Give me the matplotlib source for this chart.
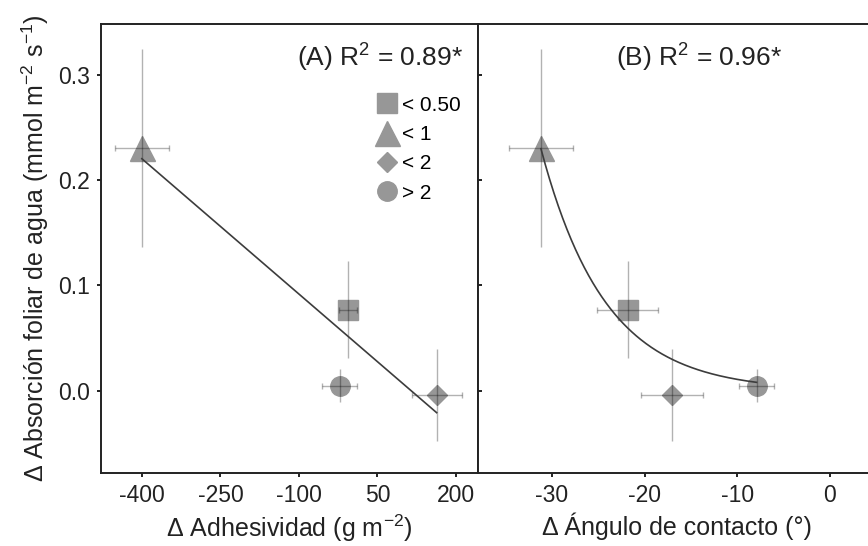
import numpy as np
import matplotlib
matplotlib.use("Agg")
import matplotlib.pyplot as plt
from matplotlib.lines import Line2D

plt.rcParams['font.family'] = ['Liberation Sans', 'DejaVu Sans']
plt.rcParams['mathtext.fontset'] = 'custom'
plt.rcParams['mathtext.rm'] = 'Liberation Sans'
plt.rcParams['mathtext.it'] = 'Liberation Sans'
plt.rcParams['axes.unicode_minus'] = False

# Data
groups = ['< 0.50', '< 1', '< 2', '> 2']
markers = ['s', '^', 'D', 'o']
msizes = [14, 18, 10, 14]

absorcion = [0.077, 0.230, -0.004, 0.005]
absorcion_err = [0.046, 0.094, 0.044, 0.016]

adhesividad = [-7, -400, 163, -22]
adhesividad_err = [17, 52, 48, 33]

angulo = [-21.8, -31.2, -17.05, -7.9]
angulo_err = [3.3, 3.5, 3.35, 1.9]

# fitted models
lin_slope, lin_intercept = -0.000428, 0.049
exp_a, exp_b = 0.00257, -0.144

marker_color = '#979797'
err_color = (0, 0, 0, 0.3)
line_color = '#3c3c3c'
text_color = '#222222'

fig = plt.figure(figsize=(8.68, 5.46), dpi=100)
ax1 = fig.add_axes([101 / 868, 1 - 473 / 546, 377 / 868, 449 / 546])
ax2 = fig.add_axes([478 / 868, 1 - 473 / 546, 398 / 868, 449 / 546])


def draw_points(ax, xs, xerrs):
    for x, xe, y, ye, m, ms in zip(xs, xerrs, absorcion, absorcion_err, markers, msizes):
        ax.plot(x, y, marker=m, markersize=ms, color=marker_color, linestyle='none', zorder=2)
        ax.errorbar(x, y, yerr=ye, fmt='none', ecolor=err_color, elinewidth=1, zorder=3)
        ax.errorbar(x, y, xerr=xe, fmt='none', ecolor=err_color, elinewidth=1,
                    capsize=2.5, capthick=1, zorder=3)


# Panel A
draw_points(ax1, adhesividad, adhesividad_err)
xa = np.linspace(min(adhesividad), max(adhesividad), 50)
ax1.plot(xa, lin_intercept + lin_slope * xa, color=line_color, linewidth=1.2, zorder=4)
ax1.set_xlim(-478, 242)
ax1.set_xticks([-400, -250, -100, 50, 200])

# Panel B
draw_points(ax2, angulo, angulo_err)
xb = np.linspace(min(angulo), max(angulo), 200)
ax2.plot(xb, exp_a * np.exp(exp_b * xb), color=line_color, linewidth=1.2, zorder=4)
ax2.set_xlim(-38, 5)
ax2.set_xticks([-30, -20, -10, 0])

for ax in (ax1, ax2):
    ax.set_ylim(-0.078, 0.348)
    ax.set_yticks([0.0, 0.1, 0.2, 0.3])
    for s in ax.spines.values():
        s.set_linewidth(1.4)
        s.set_color(text_color)
    ax.tick_params(labelsize=16.5, length=3, width=1.4, colors=text_color, pad=5)

ax1.yaxis.set_major_formatter(plt.FormatStrFormatter('%.1f'))
ax2.tick_params(axis='y', direction='in', labelleft=False)

ax1.set_xlabel('Δ Adhesividad (g m$^{-2}$)', fontsize=18, color=text_color, labelpad=4)
ax2.set_xlabel('Δ Ángulo de contacto (°)', fontsize=18, color=text_color, labelpad=4)
ax1.set_ylabel('Δ Absorción foliar de agua (mmol m$^{-2}$ s$^{-1}$)', fontsize=18,
               color=text_color, labelpad=5)

ax1.text(0.96, 0.925, '(A) R$^2$ = 0.89*', transform=ax1.transAxes, fontsize=19,
         ha='right', va='center', color=text_color)
ax2.text(0.765, 0.925, '(B) R$^2$ = 0.96*', transform=ax2.transAxes, fontsize=19,
         ha='right', va='center', color=text_color)

handles = [Line2D([], [], marker=m, markersize=ms, color=marker_color, linestyle='none')
           for m, ms in zip(markers, msizes)]
ax1.legend(handles, groups, loc='upper left', bbox_to_anchor=(0.722, 0.85), frameon=False,
           fontsize=15, handlelength=0.9, handletextpad=0.3, labelspacing=0.5,
           borderpad=0.2, borderaxespad=0)

fig.savefig('out.png', dpi=100)
